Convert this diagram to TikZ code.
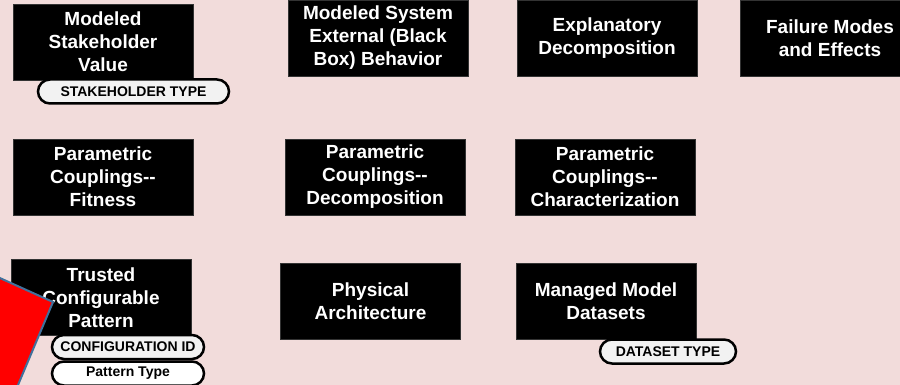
\documentclass[tikz,border=0pt]{standalone}
\usepackage{fontspec}
\setmainfont{Liberation Sans}[Ligatures={NoCommon}]
\definecolor{bgpink}{HTML}{F2DCDB}
\definecolor{pillgray}{HTML}{F2F2F2}
\definecolor{steel}{HTML}{41719C}
\newcommand{\dd}{\mbox{-}\mbox{-}}
\begin{document}
\begin{tikzpicture}[x=1pt,y=-1pt,
  blackbox/.style={draw=black!80!white, line width=0.5pt, fill=black, text=white, inner sep=0pt,
    minimum width=180pt, minimum height=76pt, align=center,
    font=\fontsize{19}{23}\selectfont\bfseries},
  pill/.style={draw=black, line width=2.5pt, fill=pillgray, rounded corners=12pt, inner sep=0pt,
    minimum height=24pt, font=\fontsize{14}{16}\selectfont\bfseries}
]
\useasboundingbox (0,0) rectangle (900,385);
\fill[bgpink] (0,0) rectangle (900,385);
\begin{scope}
\clip (0,0) rectangle (900,385);
% row 1
\node[blackbox] (msv) at (103,42) {Modeled\\Stakeholder\\Value};
\node[blackbox] (msb) at (378,38) {Modeled System\\External (Black\\Box) Behavior};
\node[blackbox] (exd) at (607,38) {Explanatory\\Decomposition};
\node[blackbox] (fme) at (830,38) {Failure Modes\\and Effects};
% row 2
\node[blackbox] (pcf) at (103,177) {Parametric\\Couplings\dd\\Fitness};
\node[blackbox] (pcd) at (375,177) {Parametric\\Couplings\dd\\Decomposition};
\node[blackbox] (pcc) at (605,177) {Parametric\\Couplings\dd\\Characterization};
% row 3
\node[blackbox] (tcp) at (101,297.5) {Trusted\\Configurable\\Pattern};
\node[blackbox] (pha) at (370.5,301) {Physical\\Architecture};
\node[blackbox] (mmd) at (606,301) {Managed Model\\Datasets};
% pills
\node[pill, minimum width=191pt] (sht) at (133.5,91.5) {STAKEHOLDER TYPE};
\node[pill, minimum width=152pt] (cid) at (128,347) {CONFIGURATION ID};
\node[pill, minimum width=152pt, fill=white] (ptt) at (128,373.5) {Pattern Type};
\node[pill, minimum width=136pt] (dst) at (668,351.5) {DATASET TYPE};
% red shape
\draw[steel, line width=2pt, fill=red] (-60,251) -- (53,302) -- (18,385) -- (-20,475) -- cycle;
\end{scope}
\end{tikzpicture}
\end{document}
